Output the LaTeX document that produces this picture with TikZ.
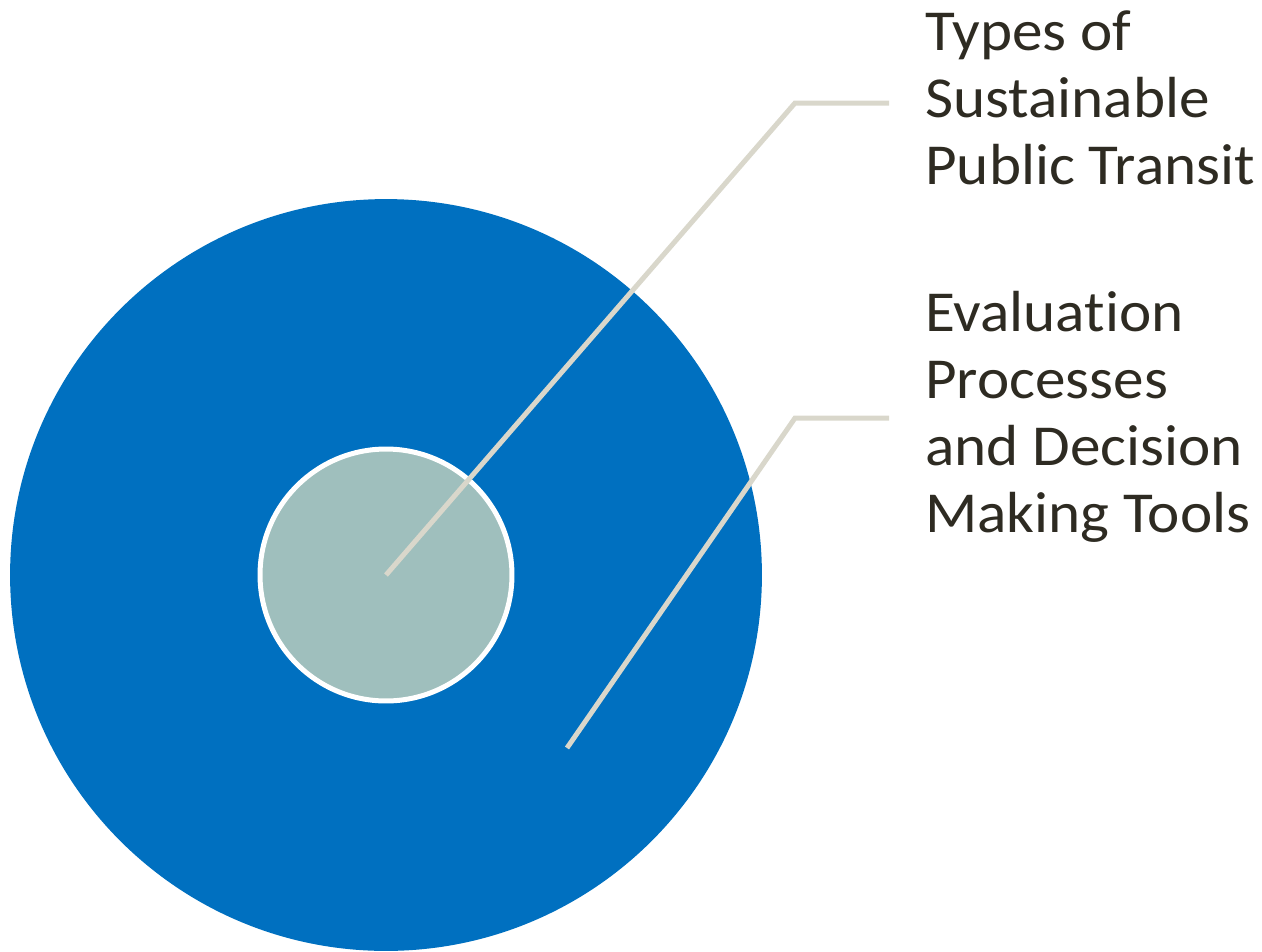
\documentclass[tikz,border=0pt]{standalone}
\usepackage{fontspec}
\setmainfont{Carlito}[Ligatures=NoCommon, FakeStretch=1.055]
\usetikzlibrary{positioning}

\definecolor{outerblue}{HTML}{0070C0}
\definecolor{innerteal}{HTML}{9FBFBD}
\definecolor{leadergray}{HTML}{D9D7CB}
\definecolor{labeltext}{HTML}{2E2B22}

\tikzset{
    leader/.style={leadergray, line width=0.1cm},
    caption/.style={text=labeltext, align=left, inner sep=0pt,
        font=\fontsize{33pt}{37.95pt}\selectfont}
}

\begin{document}
\begin{tikzpicture}[x=0.02cm,y=-0.02cm]
                \useasboundingbox (0,0) rectangle (1262,951);

                % Circles
                \node[circle, fill=outerblue, minimum size=15.04cm, inner sep=0pt] (outer) at (386,575) {};
                \node[circle, fill=innerteal, draw=white, line width=0.1cm,
                    minimum size=5.04cm, inner sep=0pt] (inner) at (386,575) {};

                % Labels (base anchor = last line)
                \node[caption, anchor=base west] (types) at (925,184)
                    {Types of\\Sustainable\\Public Transit};
                \node[caption, anchor=base west] (evaluation) at (925,532)
                    {Evaluation\\Processes\\and Decision\\Making Tools};

                % Leader lines
                \coordinate (typesbend) at (795,103);
                \coordinate (typesend) at (889,103);
                \coordinate (evalstart) at (567,748);
                \coordinate (evalbend) at (795,418);
                \coordinate (evalend) at (889,418);
                \draw[leader] (inner.center) -- (typesbend) -- (typesend);
                \draw[leader] (evalstart) -- (evalbend) -- (evalend);
\end{tikzpicture}
\end{document}
